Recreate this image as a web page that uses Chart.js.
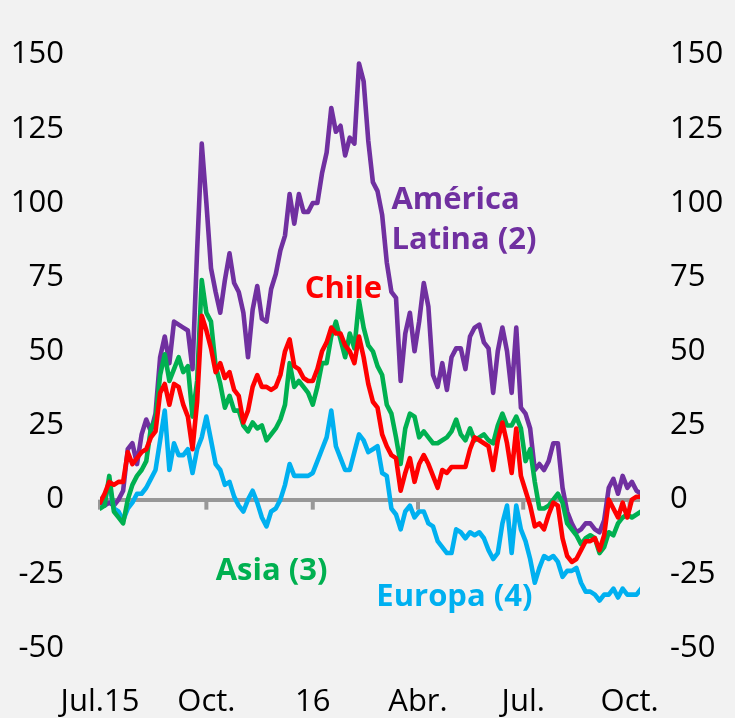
<!DOCTYPE html>
<html>
<head>
<meta charset="utf-8">
<script src="https://cdn.jsdelivr.net/npm/chart.js@4.4.0/dist/chart.umd.min.js"></script>
<style>
html,body{margin:0;padding:0;background:#f2f2f2;}
#wrap{width:735px;height:718px;position:relative;}
</style>
</head>
<body>
<div id="wrap"><canvas id="c"></canvas></div>
<script>
// ---- categories: observation dates, every 4 days from 1 Jul 2015 ----
const startDate = '2015-07-01';
const stepDays = 4;
const nObs = 118;
const dates = [];
for (let i = 0; i < nObs; i++) {
  dates.push(new Date(Date.parse(startDate) + i * stepDays * 86400000).toISOString().slice(0, 10));
}
const endDate = '2016-10-10';

// ---- series values (index) ----
const americaLatina = [0,-2,-1,-2,0,3,17,19,12,22,
  27,23,29,48,55,46,60,59,58,57,
  44,84,120,100,78,70,63,74,83,73,
  70,63,48,64,72,61,60,71,76,84,
  89,103,93,103,97,97,100,100,110,117,
  132,124,126,116,122,120,147,141,121,107,
  104,96,80,70,68,40,56,63,50,60,
  73,65,42,38,46,37,48,51,51,44,
  55,58,59,53,51,36,50,58,50,36,
  58,31,29,24,10,12,10,13,19,19,
  4,-4,-8,-11,-10,-8,-8,-10,-11,-7,
  4,7,2,8,4,6,3,2];
const chile = [-1,2,6,5,6,6,16,12,14,16,
  17,21,23,36,39,32,39,38,32,28,
  17,33,62,57,51,43,46,41,43,37,
  35,26,30,38,42,38,38,37,38,42,
  50,54,45,44,41,40,40,44,50,53,
  58,56,56,52,50,46,55,48,39,33,
  31,22,18,15,14,3,9,14,6,12,
  15,12,8,4,10,9,11,11,11,11,
  17,21,20,19,18,10,20,26,19,9,
  24,8,3,-2,-9,-8,-10,-5,-1,-2,
  -13,-19,-21,-20,-17,-14,-14,-13,-17,-12,
  0,-3,-6,-1,-6,0,1,1];
const asia = [-3,-2,8,-4,-6,-8,0,5,8,10,
  13,24,27,42,49,40,44,48,43,45,
  28,40,74,63,60,45,39,31,35,30,
  30,25,23,26,24,25,20,22,24,27,
  32,46,38,40,38,36,32,38,46,46,
  55,60,54,48,56,51,67,58,52,50,
  45,42,32,29,21,12,24,29,28,21,
  23,21,19,19,20,21,23,27,22,20,
  24,20,21,22,20,19,25,29,25,25,
  28,24,13,17,6,-3,-3,-2,0,2,
  -1,-8,-10,-12,-15,-13,-12,-13,-18,-16,
  -11,-12,-8,-6,-5,-6,-5,-4];
const europa = [0,1,5,-3,-4,-7,-3,-1,2,2,
  4,7,10,20,30,10,19,15,15,17,
  9,17,21,28,20,12,10,5,6,1,
  -2,-4,0,3,-1,-6,-9,-4,-3,0,
  5,12,8,8,8,8,9,13,17,21,
  30,18,14,10,10,16,22,20,16,17,
  18,9,8,-3,-5,-10,-4,-2,-6,-4,
  -4,-8,-9,-14,-16,-18,-18,-10,-11,-13,
  -11,-12,-11,-13,-17,-20,-18,-8,-2,-18,
  -2,-10,-14,-20,-28,-23,-19,-20,-19,-21,
  -26,-24,-24,-23,-28,-31,-31,-32,-34,-32,
  -32,-30,-33,-30,-32,-32,-32,-30];

// ---- axis ticks ----
const tickDates = ['2015-07-01','2015-10-01','2016-01-01','2016-04-01','2016-07-01','2016-10-01'];
const tickLabels = ['Jul.15','Oct.','16','Abr.','Jul.','Oct.'];
const yMin = -50, yMax = 150, yStep = 25;

// ---- helpers ----
const dayOf = d => Math.round((Date.parse(d) - Date.parse(startDate)) / 86400000);
const toXY = vals => vals.map((v, i) => ({x: dayOf(dates[i]), y: v}));

const COLORS = {america:'#7030A0', chile:'#FF0000', asia:'#00B050', europa:'#00B0F0', axis:'#989898'};
const FONT = "'Open Sans', 'Noto Sans', sans-serif";

// Series name annotations anchored in data coordinates (date, value)
const seriesNotes = [
  {lines:['América','Latina (2)'], date:'2016-03-09', value:98, color:COLORS.america},
  {lines:['Chile'], date:'2015-12-25', value:68, color:COLORS.chile},
  {lines:['Asia (3)'], date:'2015-10-09', value:-27, color:COLORS.asia},
  {lines:['Europa (4)'], date:'2016-02-25', value:-36, color:COLORS.europa}
];

const notesPlugin = {
  id: 'notes',
  afterDatasetsDraw(chart) {
    const {ctx, scales:{x, y}} = chart;
    ctx.save();
    ctx.font = 'bold 31px ' + FONT;
    ctx.textAlign = 'left';
    ctx.textBaseline = 'alphabetic';
    seriesNotes.forEach(n => {
      const px = x.getPixelForValue(dayOf(n.date));
      const py = y.getPixelForValue(n.value);
      ctx.fillStyle = n.color;
      n.lines.forEach((t, i) => ctx.fillText(t, px, py + i * 40));
    });
    ctx.restore();
  }
};

const tickMarksPlugin = {
  id: 'tickMarks',
  beforeDatasetsDraw(chart) {
    const {ctx, scales:{x, y}} = chart;
    const y0 = y.getPixelForValue(0);
    ctx.save();
    ctx.strokeStyle = COLORS.axis;
    ctx.lineWidth = 4;
    tickDates.forEach(d => {
      const px = x.getPixelForValue(dayOf(d));
      ctx.beginPath();
      ctx.moveTo(px, y0);
      ctx.lineTo(px, y0 + 10);
      ctx.stroke();
    });
    ctx.restore();
  }
};

const mk = (label, vals, color) => ({
  label, data: toXY(vals), borderColor: color, backgroundColor: color,
  borderWidth: 4.6, pointRadius: 0, tension: 0, fill: false,
  borderJoinStyle: 'round', borderCapStyle: 'round'
});

new Chart(document.getElementById('c'), {
  type: 'line',
  data: {
    datasets: [
      mk('Chile', chile, COLORS.chile),
      mk('Asia (3)', asia, COLORS.asia),
      mk('Europa (4)', europa, COLORS.europa),
      mk('América Latina (2)', americaLatina, COLORS.america)
    ]
  },
  options: {
    responsive: true,
    maintainAspectRatio: false,
    animation: false,
    layout: {padding: {top: 47, bottom: 0, left: 0, right: 0}},
    plugins: {legend: {display: false}, tooltip: {enabled: false}},
    scales: {
      x: {
        type: 'linear',
        min: 0,
        max: dayOf(endDate),
        afterBuildTicks: s => { s.ticks = tickDates.map(d => ({value: dayOf(d)})); },
        afterFit: s => { s.height = 70; },
        grid: {display: false, drawTicks: false},
        border: {display: false},
        ticks: {
          autoSkip: false, maxRotation: 0, padding: 36,
          color: '#000', font: {family: FONT, size: 31},
          callback: (v, i) => tickLabels[i]
        }
      },
      y: {
        position: 'left',
        min: yMin, max: yMax,
        afterFit: s => { s.width = 100; },
        grid: {
          drawTicks: false,
          color: c => (c.tick && c.tick.value === 0) ? COLORS.axis : 'rgba(0,0,0,0)',
          lineWidth: c => (c.tick && c.tick.value === 0) ? 4 : 0
        },
        border: {display: false},
        ticks: {stepSize: yStep, padding: 36, color: '#000', font: {family: FONT, size: 31}}
      },
      y2: {
        position: 'right',
        min: yMin, max: yMax,
        afterFit: s => { s.width = 95; },
        grid: {display: false, drawTicks: false},
        border: {display: false},
        ticks: {stepSize: yStep, padding: 30, color: '#000', font: {family: FONT, size: 31}}
      }
    }
  },
  plugins: [tickMarksPlugin, notesPlugin]
});
</script>
</body>
</html>
